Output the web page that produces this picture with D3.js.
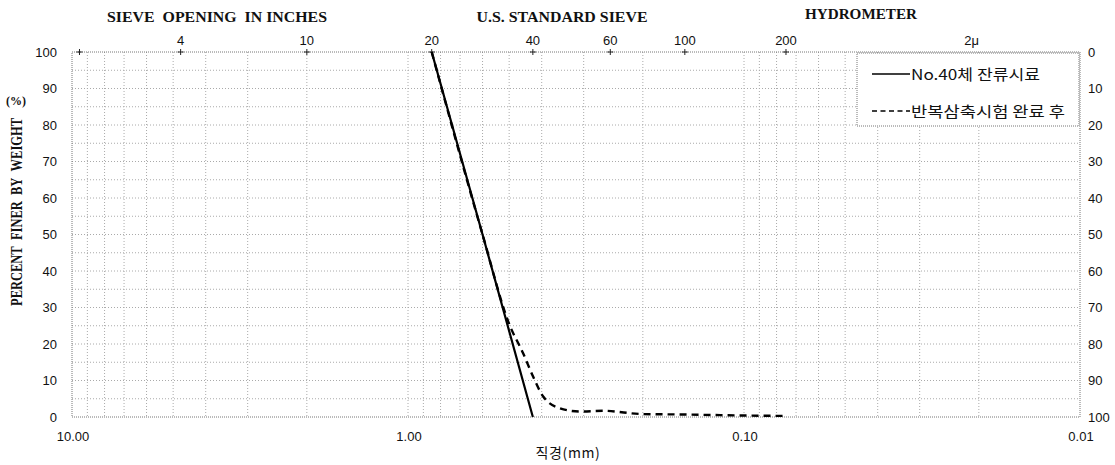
<!DOCTYPE html>
<html><head><meta charset="utf-8">
<script src="https://cdn.jsdelivr.net/npm/d3@7"></script>
<style>body{margin:0;background:#fff}</style>
</head><body>
<svg id="c" width="1115" height="465"></svg>
<script>
// ---- data ----
const solidSize = [0.85, 0.6, 0.425];
const solidPct  = [100, 50, 0];
const dashSize = [0.85, 0.6, 0.5, 0.454, 0.424, 0.396, 0.353, 0.308, 0.263, 0.2, 0.155, 0.1, 0.075];
const dashPct  = [100, 50, 25.5, 17.4, 11, 5.6, 2.4, 1.5, 1.7, 0.8, 0.7, 0.4, 0.3];
const seriesNames = ["No.40체 잔류시료", "반복삼축시험 완료 후"];
const sieveLabels = ["4", "10", "20", "40", "60", "100", "200", "2μ"];
const sieveSizes  = [4.75, 2.0, 0.85, 0.425, 0.25, 0.15, 0.075, 0.021];
const extraTickSizes = [9.5];
const yTicks = [0,10,20,30,40,50,60,70,80,90,100];
const xTickVals = [10, 1, 0.1, 0.01];
const xTickLabels = ["10.00", "1.00", "0.10", "0.01"];
const headerLabels = ["SIEVE\u00a0\u00a0OPENING\u00a0\u00a0IN INCHES", "U.S. STANDARD SIEVE", "HYDROMETER"];
const headerPos = [217, 562, 861];
const headerLen = [220, 171, 112];
const legendLen = [129, 154];

// ---- layout ----
const svg = d3.select("#c");
const L = 72, R = 1080, T = 52, B = 417;
const x = d3.scaleLog().domain([10, 0.01]).range([L, R]);
const y = d3.scaleLinear().domain([0, 100]).range([B, T]);
const num = "'Liberation Sans', Arial, sans-serif";
const kr = "'Noto Sans CJK KR', sans-serif";
const serif = "'Liberation Serif', 'Times New Roman', serif";

// grid
const gridX = [];
[0.01, 0.1, 1].forEach(k => { for (let m = 1; m <= 9; m++) gridX.push(m * k); });
const g = svg.append("g");
g.selectAll("line.gx").data(gridX.filter(v => v > 0.01 && v < 10)).join("line")
  .attr("x1", d => x(d)).attr("x2", d => x(d)).attr("y1", T).attr("y2", B)
  .attr("stroke", "#aaa").attr("stroke-width", 1).attr("stroke-dasharray", "1,2");
g.selectAll("line.gy").data(d3.range(5, 100, 5)).join("line")
  .attr("x1", L).attr("x2", R).attr("y1", d => y(d)).attr("y2", d => y(d))
  .attr("stroke", "#aaa").attr("stroke-width", 1).attr("stroke-dasharray", "1,2");
// border
svg.append("rect").attr("x", L).attr("y", T).attr("width", R - L).attr("height", B - T)
  .attr("fill", "none").attr("stroke", "#777").attr("stroke-dasharray", "1,1");

// sieve ticks "+"
const tickSizes = sieveSizes.slice(0, 7).concat(extraTickSizes);
svg.selectAll("line.st").data(tickSizes).join("line")
  .attr("x1", d => x(d)).attr("x2", d => x(d)).attr("y1", T - 3).attr("y2", T + 3)
  .attr("stroke", "#222").attr("stroke-width", 1);
svg.selectAll("line.sh").data(tickSizes).join("line")
  .attr("x1", d => x(d) - 3).attr("x2", d => x(d) + 3).attr("y1", T).attr("y2", T)
  .attr("stroke", "#222").attr("stroke-width", 1);

// top sieve labels
svg.selectAll("text.sv").data(sieveLabels).join("text")
  .attr("x", (d, i) => x(sieveSizes[i])).attr("y", 45).attr("text-anchor", "middle")
  .attr("font-family", num).attr("font-size", 13).attr("fill", "#111").text(d => d);

// headers
svg.selectAll("text.hd").data(headerLabels).join("text")
  .attr("x", (d, i) => headerPos[i]).attr("y", (d, i) => i === 2 ? 19 : 22).attr("text-anchor", "middle")
  .attr("font-family", serif).attr("font-weight", "bold").attr("font-size", 14.5)
  .attr("textLength", (d, i) => headerLen[i]).attr("lengthAdjust", "spacingAndGlyphs")
  .attr("fill", "#111").text(d => d);

// left ticks
svg.selectAll("text.yl").data(yTicks).join("text")
  .attr("x", 57).attr("y", d => y(d) + 4.5).attr("text-anchor", "end")
  .attr("font-family", num).attr("font-size", 13).attr("fill", "#111").text(d => d);
// right ticks
svg.selectAll("text.yr").data(yTicks).join("text")
  .attr("x", 1088).attr("y", d => y(d) + 4.5).attr("text-anchor", "start")
  .attr("font-family", num).attr("font-size", 13).attr("fill", "#111").text(d => 100 - d);
// bottom ticks
svg.selectAll("text.xl").data(xTickVals).join("text")
  .attr("x", d => x(d) + 1).attr("y", 441).attr("text-anchor", "middle")
  .attr("font-family", num).attr("font-size", 13).attr("fill", "#111")
  .text((d, i) => xTickLabels[i]);

// axis titles
svg.append("text").attr("x", 568).attr("y", 458).attr("text-anchor", "middle")
  .attr("font-family", kr).attr("font-size", 14).attr("letter-spacing", 0.6)
  .attr("fill", "#111").text("직경(mm)");
svg.append("text").attr("transform", "translate(22,212) rotate(-90)").attr("text-anchor", "middle")
  .attr("font-family", serif).attr("font-weight", "bold").attr("font-size", 16.5)
  .attr("textLength", 188).attr("lengthAdjust", "spacingAndGlyphs")
  .attr("fill", "#111").text("PERCENT\u00a0\u00a0FINER\u00a0\u00a0BY\u00a0\u00a0WEIGHT");
svg.append("text").attr("x", 16).attr("y", 105).attr("text-anchor", "middle")
  .attr("font-family", serif).attr("font-weight", "bold").attr("font-size", 12)
  .attr("fill", "#111").text("(%)");

// data lines
const line = d3.line().x(d => x(d[0])).y(d => y(d[1]));
svg.append("path").datum(solidSize.map((s, i) => [s, solidPct[i]]))
  .attr("d", line).attr("fill", "none").attr("stroke", "#000").attr("stroke-width", 2.2);
svg.append("path").datum(dashSize.map((s, i) => [s, dashPct[i]]))
  .attr("d", line.curve(d3.curveMonotoneX)).attr("fill", "none").attr("stroke", "#000")
  .attr("stroke-width", 2.4).attr("stroke-dasharray", "7,5");

// legend
const lg = svg.append("g");
lg.append("rect").attr("x", 857).attr("y", 53).attr("width", 222).attr("height", 73)
  .attr("fill", "#fff").attr("stroke", "#777").attr("stroke-dasharray", "1,1");
lg.append("line").attr("x1", 872).attr("x2", 910).attr("y1", 74).attr("y2", 74)
  .attr("stroke", "#000").attr("stroke-width", 1.5);
lg.append("line").attr("x1", 872).attr("x2", 910).attr("y1", 111).attr("y2", 111)
  .attr("stroke", "#000").attr("stroke-width", 1.5).attr("stroke-dasharray", "5,3.5");
lg.selectAll("text").data(seriesNames).join("text")
  .attr("x", 911).attr("y", (d, i) => i === 0 ? 79.5 : 116.5)
  .attr("font-family", kr).attr("font-size", 14.5)
  .attr("textLength", (d, i) => legendLen[i]).attr("lengthAdjust", "spacingAndGlyphs")
  .attr("fill", "#111").text(d => d);
</script>
</body></html>
